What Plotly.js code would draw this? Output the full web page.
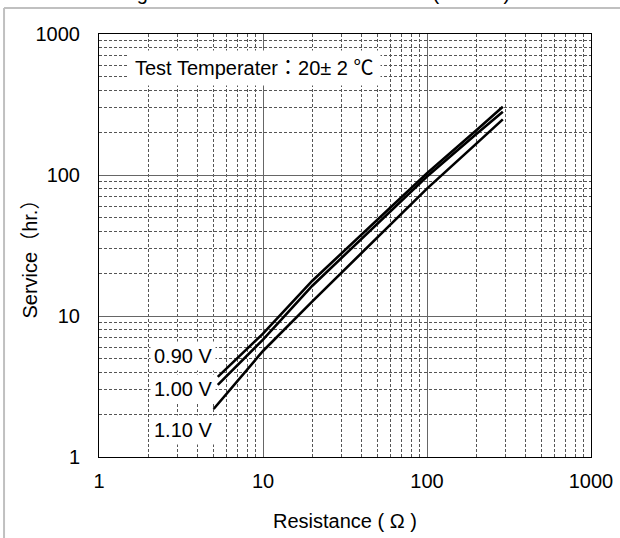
<!DOCTYPE html>
<html>
<head>
<meta charset="utf-8">
<script src="https://cdn.plot.ly/plotly-3.0.1.min.js"></script>
<style>html,body{margin:0;padding:0;background:#fff;}#chart{width:620px;height:538px;}</style>
</head>
<body>
<div id="chart"></div>
<script>
// Data
const resistance090 = [5.3, 10, 20, 50, 100, 200, 290];
const service090 = [3.7, 7.5, 17.8, 48, 103, 208, 305];
const resistance100 = [5.3, 10, 20, 50, 100, 200, 290];
const service100 = [3.25, 6.8, 16.4, 45, 97.5, 195, 281];
const resistance110 = [5.0, 10, 20, 50, 100, 200, 290];
const service110 = [2.19, 5.65, 12.7, 36.3, 80, 167, 248];
const seriesNames = ["0.90 V", "1.00 V", "1.10 V"];
const xTickVals = [1, 10, 100, 1000];
const yTickVals = [1, 10, 100, 1000];

const FONT = "Arial, 'Liberation Sans', 'Noto Sans CJK JP', sans-serif";
const line = {color: "#000", width: 2.6};
const traces = [
  {x: resistance090, y: service090, name: seriesNames[0], mode: "lines", line: line},
  {x: resistance100, y: service100, name: seriesNames[1], mode: "lines", line: line},
  {x: resistance110, y: service110, name: seriesNames[2], mode: "lines", line: line}
];

const axisCommon = {
  type: "log",
  showline: true, mirror: true, linecolor: "#000", linewidth: 1,
  ticks: "", showgrid: true, gridcolor: "#666", gridwidth: 1,
  zeroline: false,
  tickfont: {family: FONT, size: 20, color: "#000"},
  minor: {dtick: "D1", showgrid: true, gridcolor: "#555", gridwidth: 1, griddash: "3px,2px", ticks: ""}
};

const textFont = {family: FONT, size: 20, color: "#000"};

const layout = {
  width: 620, height: 538,
  margin: {l: 99, r: 29, t: 34, b: 81},
  paper_bgcolor: "#fff", plot_bgcolor: "#fff",
  showlegend: false,
  font: textFont,
  xaxis: Object.assign({}, axisCommon, {
    range: [0, 3], tickvals: xTickVals, ticktext: xTickVals.map(String),
    ticklabelstandoff: 6
  }),
  yaxis: Object.assign({}, axisCommon, {
    range: [0, 3], tickvals: yTickVals, ticktext: yTickVals.map(String),
    ticklabelstandoff: 14
  }),
  shapes: [
    {type: "line", xref: "paper", yref: "paper", x0: -0.193, x1: 1.2, y0: 1.0615, y1: 1.0615, line: {color: "#c0c0c0", width: 2}},
    {type: "line", xref: "paper", yref: "paper", x0: -0.193, x1: -0.193, y0: 1.0615, y1: -0.3, line: {color: "#c0c0c0", width: 2}}
  ],
  annotations: [
    // axis titles
    {xref: "paper", yref: "paper", x: 0.5, y: -0.151, xanchor: "center", yanchor: "middle",
     text: "Resistance ( Ω )", showarrow: false, font: textFont},
    {xref: "paper", yref: "paper", x: -0.140, y: 0.479, xanchor: "center", yanchor: "middle", textangle: -90,
     text: "Service（hr.）", showarrow: false, font: textFont},
    // in-plot notes
    {xref: "paper", yref: "paper", x: 0.059, y: 0.9196, xanchor: "left", yanchor: "middle",
     text: "Test Temperater：20± 2 ℃", showarrow: false,
     bgcolor: "#fff", borderpad: 6, font: textFont},
    {xref: "paper", yref: "paper", x: 0.17, y: 0.239, xanchor: "center", yanchor: "middle", text: seriesNames[0], showarrow: false,
     bgcolor: "#fff", borderpad: 3, font: textFont},
    {xref: "paper", yref: "paper", x: 0.17, y: 0.161, xanchor: "center", yanchor: "middle", text: seriesNames[1], showarrow: false,
     bgcolor: "#fff", borderpad: 3, font: textFont},
    {xref: "paper", yref: "paper", x: 0.17, y: 0.063, xanchor: "center", yanchor: "middle", text: seriesNames[2], showarrow: false,
     bgcolor: "#fff", borderpad: 3, font: textFont},
    // chart title, mostly cut off at the top edge as in the reference
    {xref: "paper", yref: "paper", x: -0.065, y: 1.066, xanchor: "left", yanchor: "bottom",
     text: "Discharge Characteristics vs Resistance (at 20℃)", showarrow: false, font: textFont}
  ]
};

Plotly.newPlot("chart", traces, layout, {displayModeBar: false, staticPlot: true});
</script>
</body>
</html>
